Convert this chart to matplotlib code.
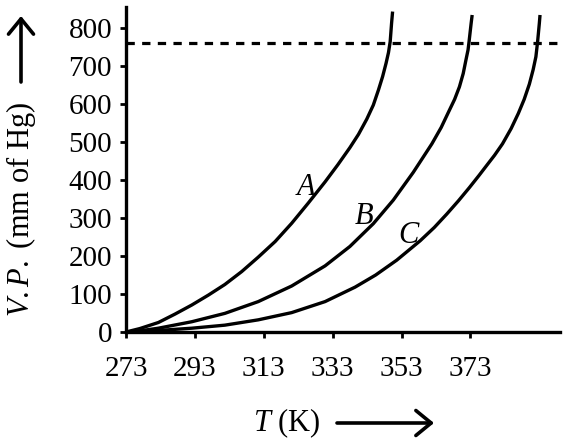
import matplotlib
matplotlib.use("Agg")
import matplotlib.pyplot as plt
from matplotlib.patches import FancyArrowPatch

plt.rcParams['font.family'] = ['Liberation Serif', 'DejaVu Serif']
plt.rcParams['mathtext.fontset'] = 'custom'
plt.rcParams['mathtext.rm'] = 'Liberation Serif'
plt.rcParams['mathtext.it'] = 'Liberation Serif:italic'

# Data (T in K, vapour pressure in mm of Hg)
T_A = [273, 277, 282.4, 287.2, 292.1, 296.9, 301.7, 306.6, 311.4, 316.3, 321.1, 325.9,
       330.8, 334.5, 338.0, 340.5, 342.9, 344.8, 346.3, 347.5, 348.5, 349.2, 349.7, 350.1, 350.4]
P_A = [0, 9, 25, 47, 71, 97, 125, 159, 197, 238, 286, 339,
       395, 440, 485, 520, 560, 597, 637, 672, 707, 735, 764, 812, 843]
T_B = [273, 277, 282.4, 292.1, 301.7, 311.4, 321.1, 330.8, 338.0, 344.8, 350.6, 356.4,
       361.8, 364.5, 366.6, 368.4, 369.8, 370.9, 371.7, 372.3, 372.6, 373.2, 373.5]
P_B = [0, 3, 10, 27, 49, 80, 121, 174, 225, 285, 347, 420,
       495, 538, 578, 612, 645, 680, 716, 742, 764, 812, 834]
T_C = [273, 282.4, 292.1, 301.7, 311.4, 321.1, 330.8, 339.5, 345.5, 351.6, 358.4, 362.5,
       366.1, 369.5, 372.7, 375.5, 377.7, 380.0, 382.3, 384.8, 386.9, 388.6, 390.1, 391.2,
       392.0, 392.5, 393.0, 393.2]
P_C = [0, 4, 10, 18, 32, 51, 80, 118, 150, 189, 240, 275,
       310, 345, 380, 412, 438, 465, 495, 535, 575, 612, 652, 690,
       724, 764, 812, 834]
boiling_line = 760
x_ticks = [273, 293, 313, 333, 353, 373]
y_ticks = [0, 100, 200, 300, 400, 500, 600, 700, 800]
curve_labels = [('A', 325.3, 381), ('B', 342.1, 303), ('C', 355.1, 255)]

W, H = 569, 446
fig = plt.figure(figsize=(W / 100, H / 100), dpi=100)
ax = fig.add_axes([126 / W, (H - 332) / H, (560 - 126) / W, (332 - 7) / H])

for T, P in [(T_A, P_A), (T_B, P_B), (T_C, P_C)]:
    ax.plot(T, P, color='black', lw=2.4, solid_capstyle='butt',
            solid_joinstyle='round', clip_on=False)

ax.axhline(boiling_line, color='black', lw=2.3, linestyle=(0, (2.6, 2.3)))

for name, x, y in curve_labels:
    ax.text(x, y, name, fontsize=22, style='italic', ha='center', va='center')

ax.set_xlim(273, 399)
ax.set_ylim(0, 855)
ax.set_xticks(x_ticks)
ax.set_xticklabels([str(t) for t in x_ticks])
ax.set_yticks(y_ticks)
ax.set_yticklabels([str(t) for t in y_ticks])
for s in ['top', 'right']:
    ax.spines[s].set_visible(False)
for s in ['left', 'bottom']:
    ax.spines[s].set_linewidth(2.4)
ax.tick_params(axis='both', labelsize=21, width=2, length=4, direction='out')
ax.tick_params(axis='x', pad=13)
ax.tick_params(axis='y', pad=6)

fig.text(21 / W, (H - 209) / H, r'$\mathit{V.P.}$ (mm of Hg)', rotation=90, fontsize=22,
         ha='center', va='center')
fig.text(287 / W, (H - 423) / H, r'$T$ (K)', fontsize=22, ha='center', va='center')

arrow_kw = dict(arrowstyle='->,head_length=0.55,head_width=0.45', lw=2.6,
                color='black', mutation_scale=20, shrinkA=0, shrinkB=0)
fig.add_artist(FancyArrowPatch((21 / W, (H - 82) / H), (21 / W, (H - 16) / H),
                               transform=fig.transFigure, **arrow_kw))
fig.add_artist(FancyArrowPatch((337 / W, (H - 423) / H), (434 / W, (H - 423) / H),
                               transform=fig.transFigure, **arrow_kw))

fig.savefig('out.png', dpi=100)
